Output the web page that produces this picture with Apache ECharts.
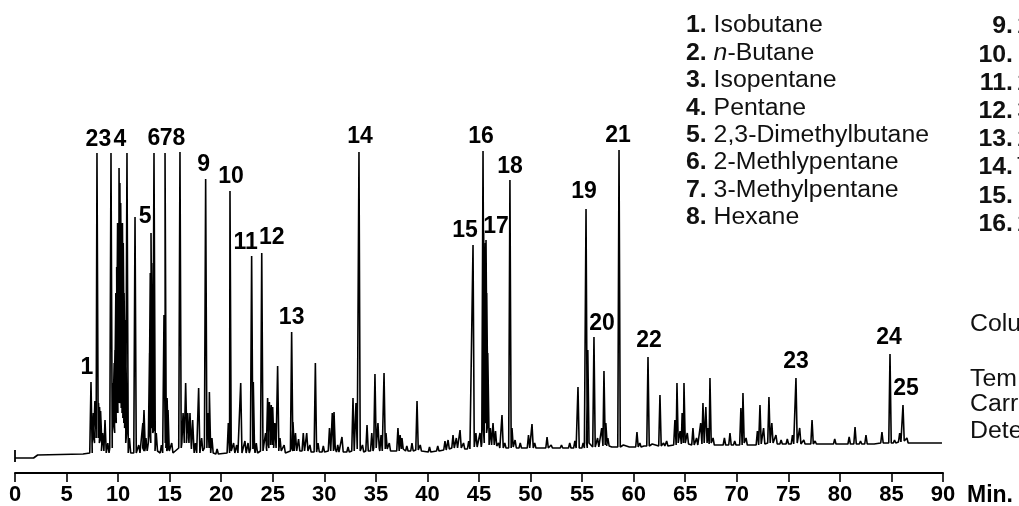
<!DOCTYPE html>
<html><head><meta charset="utf-8">
<script src="https://cdn.jsdelivr.net/npm/echarts@6/dist/echarts.min.js"></script>
<style>html,body{margin:0;padding:0;background:#fff}#c{width:1019px;height:506px}</style>
</head><body><div id="c"></div>
<script>
// ---- data ----
const timeTicks = [0,5,10,15,20,25,30,35,40,45,50,55,60,65,70,75,80,85,90];
const compoundNames = ['Isobutane','n-Butane','Isopentane','Pentane','2,3-Dimethylbutane','2-Methlypentane','3-Methylpentane','Hexane'];
const rightNumbers = ['9.','10.','11.','12.','13.','14.','15.','16.'];
const rightInitials = ['2','B','2','3','2','T','E','2'];
const conditionLabels = ['Colu','','Tem','Carr','Dete'];
// baseline points [time, signal]
const baseline = [[0,15],[1.8,15],[2.2,18],[6.6,19],[89.9,30]];
// labelled compound peaks [label, time(min), apex, local base]
const labelledPeaks = [
  ['1',7.37,91,20],['2',7.95,320,35],['3',9.31,320,25],['4',10.86,320,30],['5',11.64,256,20],
  ['6',13.48,320,40],['7',14.55,320,30],['8',16.0,321,25],['9',18.49,294,25],['10',20.85,282,22],
  ['11',22.95,217,24],['12',23.93,220,22],['13',26.83,141,22],['14',33.36,321,22],['15',44.42,228,26],
  ['16',45.39,322,30],['17',45.68,233,60],['18',48.0,293,25],['19',55.38,264,25],['20',56.15,136,26],
  ['21',58.58,323,26],['22',61.39,116,27],['23',75.74,95,30],['24',84.86,119,30],['25',86.12,68,32]
];
// unlabelled peaks [time, apex, local base]
const minorPeaks = [
  [7.6,60,30],[7.75,72,35],[8.1,70,35],[8.2,66,35],[8.3,62,30],[8.5,40,22],[8.73,53,20],[9.0,30,20],
  [9.55,90,40],[9.62,110,55],[9.7,123,50],[9.78,180,60],[9.86,206,60],[9.95,250,70],[10.09,305,70],
  [10.17,290,75],[10.25,270,70],[10.35,200,70],[10.42,250,65],[10.5,230,60],[10.58,180,55],[10.67,153,50],
  [10.75,120,45],[11.1,35,20],[12.0,28,20],
  [12.4,50,22],[12.51,63,25],[12.7,35,22],[13.05,120,30],[13.12,200,45],[13.19,240,45],[13.25,210,50],
  [13.32,150,50],[13.4,180,45],[13.7,40,22],
  [14.2,28,20],[14.45,158,30],[14.75,75,25],[14.84,63,22],[15.2,30,20],[16.3,60,30],[16.55,90,35],
  [16.75,60,30],[16.97,60,28],[17.23,53,24],[17.5,30,20],[17.81,85,20],[18.1,35,22],[18.7,60,25],
  [18.85,81,25],[19.1,35,20],[19.6,24,19],[20.69,50,20],[21.2,30,20],[21.5,28,20],[21.89,90,20],
  [22.3,32,20],[22.6,30,20],[23.11,91,24],[23.4,30,20],[24.3,40,22],[24.5,75,25],[24.67,71,28],
  [24.85,68,28],[24.99,66,28],[25.2,50,25],[25.47,107,25],[25.7,35,22],[26.1,28,20],[26.96,51,25],
  [27.2,40,22],[27.5,34,22],[27.96,40,22],[28.29,40,22],[28.6,28,21],[29.13,110,21],[29.39,30,21],
  [29.9,27,21],[30.5,45,22],[30.77,60,22],[30.94,61,24],[31.3,28,21],[31.71,36,21],[32.3,26,21],
  [32.78,75,22],[33.07,70,24],[33.7,28,21],[34.14,48,22],[34.6,40,22],[34.91,99,25],[35.2,50,25],
  [35.5,38,22],[35.79,100,24],[35.98,40,24],[36.3,30,22],[37.14,45,22],[37.35,38,24],[37.53,35,24],
  [38.0,27,22],[38.5,30,22],[38.99,72,23],[39.3,28,22],[40.2,26,21],[41.0,27,22],[41.7,32,23],
  [42.0,33,24],[42.48,38,25],[42.8,35,25],[43.16,43,25],[43.5,30,24],[44.0,32,24],[44.7,40,26],
  [45.1,40,26],[45.45,240,60],[45.55,220,50],[45.62,230,60],[45.75,180,50],[45.85,120,40],[46.1,45,28],
  [46.36,50,28],[46.6,42,27],[46.9,30,25],
  [47.23,58,25],[47.5,30,25],[48.2,45,26],[48.5,33,25],[49.0,30,25],[49.8,38,25],[50.14,49,25],
  [50.4,30,25],[51.6,36,25],[52.0,28,25],[53.0,28,25],[53.8,30,25],[54.3,32,25],[54.6,86,25],
  [55.1,30,25],[55.55,123,30],[56.5,35,26],[56.9,45,27],[57.12,102,28],[57.3,50,30],[57.5,35,27],
  [58.0,27,26],[59.0,28,26],[59.7,27,26],[60.32,41,26],[60.6,30,26],[61.0,27,26],[61.8,29,27],
  [62.55,78,27],[62.9,30,27],[63.2,32,27],[64.0,53,28],[64.2,90,30],[64.5,42,29],[64.7,60,30],
  [64.88,90,30],[65.2,40,29],[65.75,45,28],[66.1,35,28],[66.5,50,29],[66.72,70,30],[67.0,66,30],
  [67.2,45,29],[67.4,95,30],[67.7,35,28],[68.3,30,28],[68.8,35,28],[69.34,40,28],[69.8,32,28],
  [70.4,65,28],[70.6,80,30],[70.9,35,28],[71.5,30,28],[72.0,42,28],[72.25,68,29],[72.6,45,29],
  [73.12,76,30],[73.4,50,30],[73.8,38,29],[74.3,33,29],[74.9,34,29],[75.4,38,29],[76.1,45,29],
  [76.5,33,29],[77.3,53,29],[77.6,32,29],[78.2,30,29],[79.0,31,29],[79.5,34,29],[80.2,30,29],
  [80.9,36,29],[81.47,46,29],[82.0,32,29],[82.53,38,29],[83.2,31,29],[84.08,41,30],[85.3,33,30],
  [85.8,40,31],[86.5,35,30],[87.2,32,30],[88.0,31,30],[88.9,31,30]
];
const startMark = [[0,11],[0,23]];

// ---- styling ----
const HALF_WIDTH = 0.12; // peak half-width in minutes (visual style)
const labelOffsets = {
  '1':[-4,-14],'2':[-5,-13],'3':[-6,-13],'4':[-7,-13],'5':[10,0],'6':[0,-14],'7':[1,-14],'8':[-1,-13],
  '9':[-2,-14],'10':[1,-14],'11':[-6,-13],'12':[10,-15],'13':[0,-14],'14':[1,-15],'15':[-8,-14],
  '16':[-2,-14],'17':[10,-13],'18':[0,-13],'19':[-2,-17],'20':[8,-13],'21':[-1,-14],'22':[1,-16],
  '23':[0,-16],'24':[-1,-16],'25':[3,-16]
};
const INK = '#000';
const SANS = '"Liberation Sans", Arial, Helvetica, sans-serif';

// build trace from peaks and baseline points
const events = [];
baseline.forEach(p => events.push({t:p[0], pts:[[p[0],p[1]]]}));
labelledPeaks.forEach(p => events.push({t:p[1], pts:[[p[1]-HALF_WIDTH,p[3]],[p[1],p[2]],[p[1]+HALF_WIDTH,p[3]]]}));
minorPeaks.forEach(p => events.push({t:p[0], pts:[[p[0]-HALF_WIDTH,p[2]],[p[0],p[1]],[p[0]+HALF_WIDTH,p[2]]]}));
events.sort((a,b)=>a.t-b.t);
const trace = [];
events.forEach(e => e.pts.forEach(pt => trace.push(pt)));

const graphic = [];
const textStyleBase = {fontSize:23, fontFamily:SANS, fill:'#111', verticalAlign:'middle'};
const rich = {
  b:{fontSize:23, fontFamily:SANS, fontWeight:'bold', fill:'#111'},
  r:{fontSize:23, fontFamily:SANS, fill:'#111'},
  i:{fontSize:23, fontFamily:SANS, fontStyle:'italic', fill:'#111'}
};
compoundNames.forEach((n,i) => {
  let body = n.startsWith('n-') ? '{i|n}{r|' + n.slice(1) + '}' : '{r|' + n + '}';
  graphic.push({type:'text', x:686, y:26 + 27.4*i, scaleX:1.08,
    style:Object.assign({}, textStyleBase, {text:'{b|' + (i+1) + '.}{r| }' + body, rich:rich})});
});
rightNumbers.forEach((n,i) => {
  graphic.push({type:'text', x:1013, y:27 + 28.2*i, scaleX:1.08,
    style:Object.assign({}, textStyleBase, {text:n, fontWeight:'bold', align:'right'})});
  graphic.push({type:'text', x:1017, y:27 + 28.2*i, scaleX:1.08,
    style:Object.assign({}, textStyleBase, {text:rightInitials[i], align:'left'})});
});
const condY = [325, 352, 380, 405, 432];
conditionLabels.forEach((c,i) => {
  if (!c) return;
  graphic.push({type:'text', x:970, y:condY[i], scaleX:1.08,
    style:Object.assign({}, textStyleBase, {text:c, align:'left'})});
});

const chart = echarts.init(document.getElementById('c'), null, {renderer:'canvas'});
chart.setOption({
  animation:false,
  backgroundColor:'#fff',
  grid:{left:15, right:76, top:123, bottom:33, containLabel:false, outerBoundsMode:'none'},
  xAxis:{
    type:'value', min:0, max:90, interval:5,
    name:'Min.', nameLocation:'end', nameGap:24,
    nameTextStyle:{color:INK, fontSize:23, fontWeight:'bold', fontFamily:SANS, verticalAlign:'top', padding:[11,0,0,0]},
    axisLine:{show:true, lineStyle:{color:INK, width:2}},
    axisTick:{show:true, length:9, lineStyle:{color:INK, width:1.6}},
    axisLabel:{color:INK, fontSize:22, fontWeight:'bold', fontFamily:SANS, margin:11,
      formatter:v => timeTicks.includes(v) ? String(v) : ''},
    splitLine:{show:false}
  },
  yAxis:{type:'value', min:0, max:350, show:false, splitLine:{show:false}},
  series:[
    {type:'line', data:trace, showSymbol:false, symbol:'none', silent:true,
      lineStyle:{color:'#000', width:1.6, join:'bevel'}},
    {type:'line', data:startMark, showSymbol:false, symbol:'none', silent:true,
      lineStyle:{color:'#000', width:1.8}},
    {type:'scatter', symbolSize:0.1, itemStyle:{color:'rgba(0,0,0,0)'}, silent:true,
      data:labelledPeaks.map(p => ({value:[p[1], p[2]],
        label:{show:true, position:'inside', formatter:p[0], offset:labelOffsets[p[0]],
          color:INK, opacity:1, textBorderWidth:0, textBorderColor:'transparent',
          fontSize:23, fontWeight:'bold', fontFamily:SANS}}))}
  ],
  graphic:graphic
});
</script></body></html>
